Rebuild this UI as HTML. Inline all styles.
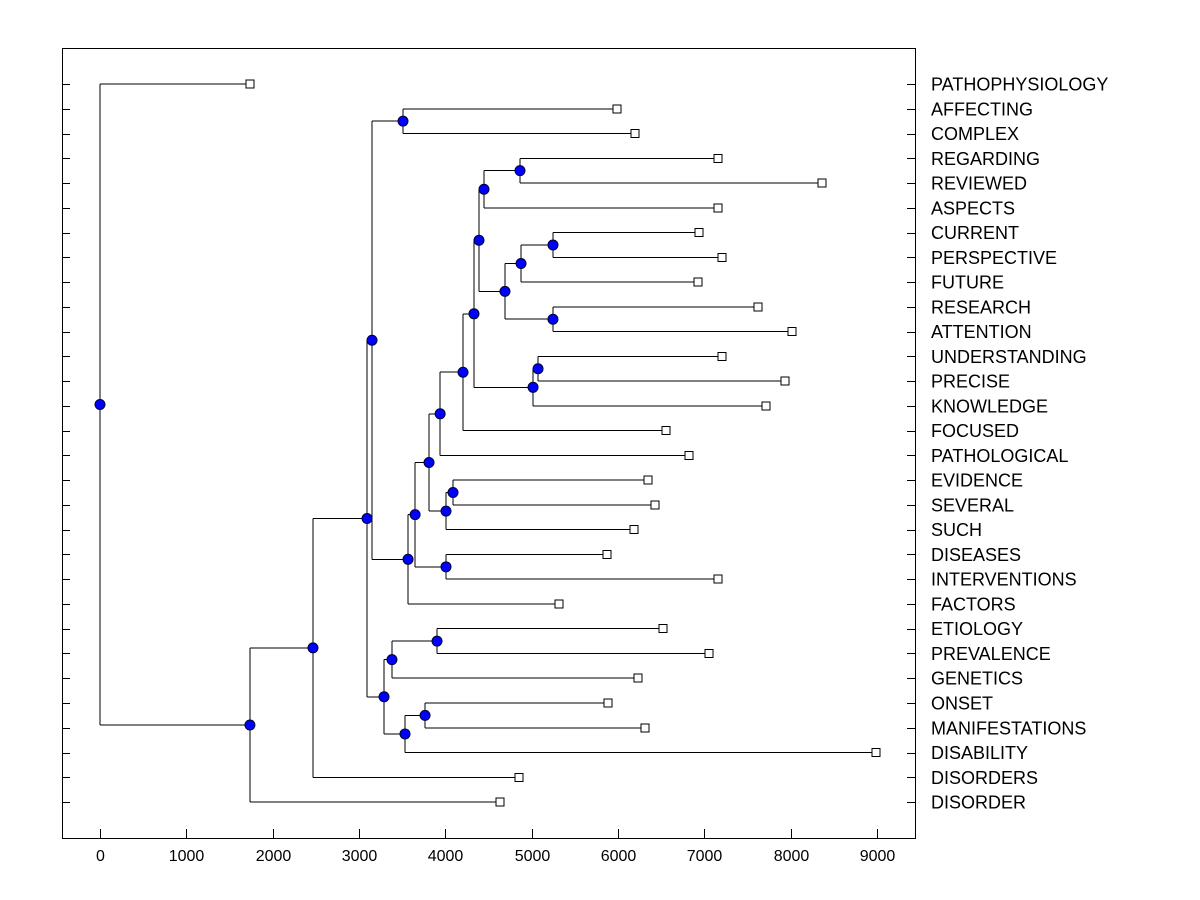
<!DOCTYPE html>
<html><head><meta charset="utf-8"><style>
body{margin:0;background:#fff;}
svg{display:block;font-family:"Liberation Sans",Arial,sans-serif;}
line,rect{shape-rendering:crispEdges;}
</style></head><body>
<svg id="chart" width="1200" height="900"></svg>
<script>
const leafNames=["PATHOPHYSIOLOGY","AFFECTING","COMPLEX","REGARDING","REVIEWED","ASPECTS","CURRENT","PERSPECTIVE","FUTURE","RESEARCH","ATTENTION","UNDERSTANDING","PRECISE","KNOWLEDGE","FOCUSED","PATHOLOGICAL","EVIDENCE","SEVERAL","SUCH","DISEASES","INTERVENTIONS","FACTORS","ETIOLOGY","PREVALENCE","GENETICS","ONSET","MANIFESTATIONS","DISABILITY","DISORDERS","DISORDER"];
const leafValues=[1737,5989,6197,7159,8363,7159,6939,7205,6927,7622,8016,7205,7935,7715,6556,6823,6348,6429,6185,5873,7159,5317,6522,7054,6232,5884,6313,8989,4853,4633];
// internal nodes: [height, childA, childB]; children are leaf names or node ids
const nodeIds=["root","A","B","C","D","F","G","H","I","K","M","N","O","Q","S","R","T","V","U","P","W","L","X","J","E","Y","AA","Z","AB"];
const nodeHeights=[0,1737,2467,3093,3151,3510,3568,3650,3811,3940,4205,4332,4390,4448,4865,4691,4877,5247,5247,5016,5074,4008,4089,4008,3290,3382,3904,3533,3765];
const nodeChildren=[["PATHOPHYSIOLOGY","A"],["B","DISORDER"],["C","DISORDERS"],["D","E"],["F","G"],["AFFECTING","COMPLEX"],["H","FACTORS"],["I","J"],["K","L"],["M","PATHOLOGICAL"],["N","FOCUSED"],["O","P"],["Q","R"],["S","ASPECTS"],["REGARDING","REVIEWED"],["T","U"],["V","FUTURE"],["CURRENT","PERSPECTIVE"],["RESEARCH","ATTENTION"],["W","KNOWLEDGE"],["UNDERSTANDING","PRECISE"],["X","SUCH"],["EVIDENCE","SEVERAL"],["DISEASES","INTERVENTIONS"],["Y","Z"],["AA","GENETICS"],["ETIOLOGY","PREVALENCE"],["AB","DISABILITY"],["ONSET","MANIFESTATIONS"]];
const xTicks=[0,1000,2000,3000,4000,5000,6000,7000,8000,9000];

const NS="http://www.w3.org/2000/svg";
const svg=document.getElementById('chart');
const X0=62,X1=915,Y0=48,Y1=838;
const xs=v=>100+v*0.08633;
const rowY=i=>84+i*24.76;
function el(t,a,p){const e=document.createElementNS(NS,t);for(const k in a)e.setAttribute(k,a[k]);(p||svg).appendChild(e);return e;}

const frame=el('rect',{x:X0+.5,y:Y0+.5,width:X1-X0,height:Y1-Y0,fill:'none',stroke:'#000'});


xTicks.forEach(t=>{
  const x=Math.round(xs(t))+.5;
  el('line',{x1:x,x2:x,y1:Y1,y2:Y1-9,stroke:'#000'});
  const tx=el('text',{x:x,y:861,'text-anchor':'middle','font-size':16,fill:'#000'});
  tx.textContent=t;
  
  
});
const pos={};
leafNames.forEach((n,i)=>{pos[n]={x:xs(leafValues[i]),y:rowY(i),leaf:true};
  const y=Math.round(rowY(i))+.5;
  el('line',{x1:X0,x2:X0+8,y1:y,y2:y,stroke:'#000'});
  el('line',{x1:X1-8,x2:X1,y1:y,y2:y,stroke:'#000'});
  const tx=el('text',{x:931,y:rowY(i)+6.5,'font-size':18,fill:'#000'});
  tx.textContent=n;
  
  
});
function resolve(id){
  if(pos[id])return pos[id];
  const k=nodeIds.indexOf(id);
  const a=resolve(nodeChildren[k][0]),b=resolve(nodeChildren[k][1]);
  pos[id]={x:xs(nodeHeights[k]),y:(a.y+b.y)/2,leaf:false,kids:[a,b]};
  return pos[id];
}
resolve('root');
const lines=el('g',{});
nodeIds.forEach(id=>{const p=pos[id];
  const [a,b]=p.kids;
  el('line',{x1:p.x,x2:p.x,y1:a.y,y2:b.y,stroke:'#000'},lines);
  el('line',{x1:p.x,x2:a.x,y1:a.y,y2:a.y,stroke:'#000'},lines);
  el('line',{x1:p.x,x2:b.x,y1:b.y,y2:b.y,stroke:'#000'},lines);
});
leafNames.forEach(n=>{const p=pos[n];
  const r=el('rect',{x:p.x-4,y:p.y-4,width:8,height:8,fill:'#fff',stroke:'#000'});
  
  
});
nodeIds.forEach(id=>{const p=pos[id];
  const c=el('circle',{cx:p.x,cy:p.y,r:5,fill:'#0000ff',stroke:'#000033','stroke-width':1});
  
  
});
</script>
</body></html>
